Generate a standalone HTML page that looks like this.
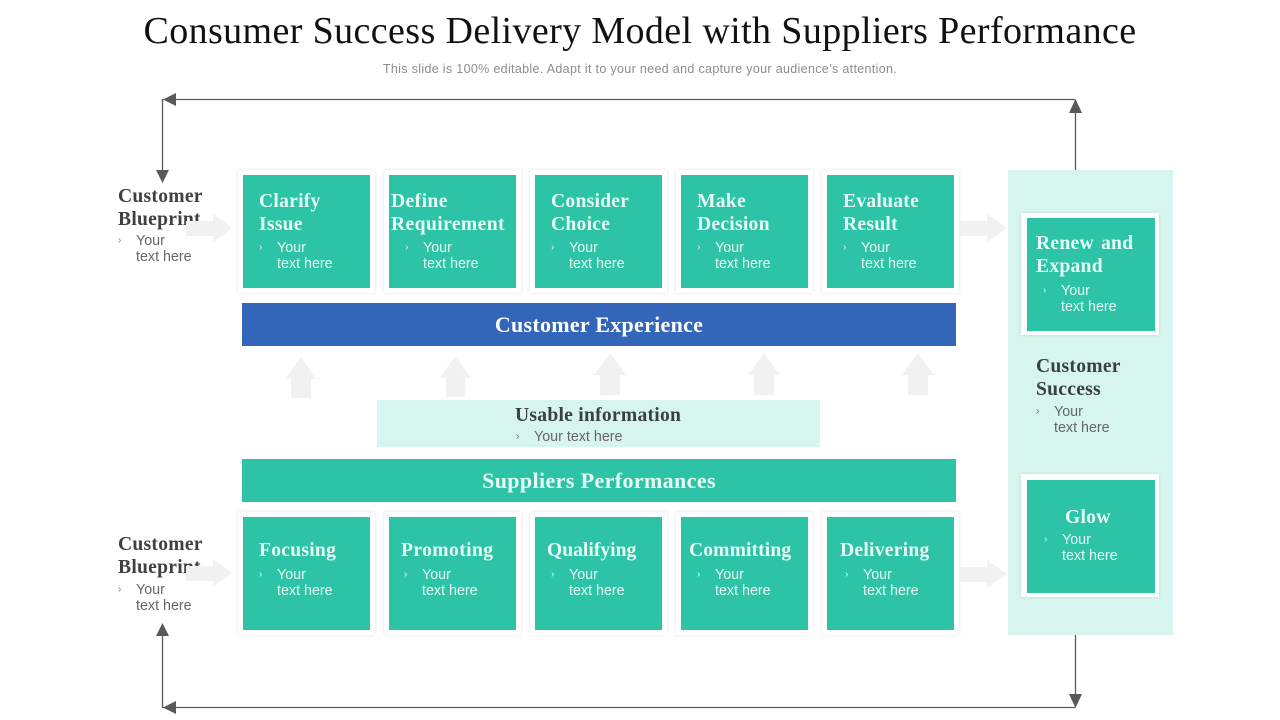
<!DOCTYPE html>
<html><head><meta charset="utf-8"><style>
html,body{margin:0;padding:0;background:#fff}
#p{position:relative;width:1280px;height:720px;overflow:hidden;background:#fff}
#p div{position:absolute;white-space:nowrap}
.f{background:#fff;width:137px;height:123px;box-shadow:0 0 3px rgba(0,0,0,.12)}
.g{background:#2dc3a6;width:127px;height:113px}
.h{font:bold 19.6px/23px "Liberation Serif",serif;color:#e6fbf5;letter-spacing:.25px}
.d{font:bold 19.6px/23px "Liberation Serif",serif;color:#404040;letter-spacing:.25px}
.t{font:14.3px/16px "Liberation Sans",sans-serif;color:#e6fbf5}
.k{font:14.3px/16px "Liberation Sans",sans-serif;color:#666}
.b{font:10px/16px "Liberation Sans",sans-serif}
.w{color:#e6fbf5}
</style></head><body><div id="p">
<div style="left:0;width:1280px;top:8px;text-align:center;font:38px/46px 'Liberation Serif',serif;color:#111;letter-spacing:.38px">Consumer Success Delivery Model with Suppliers Performance</div>
<div style="left:0;width:1280px;top:61px;text-align:center;font:12.5px/16px 'Liberation Sans',sans-serif;color:#8c8c8c;letter-spacing:.33px">This slide is 100% editable. Adapt it to your need and capture your audience’s attention.</div>

<div style="left:1008px;top:170px;width:165px;height:465px;background:#d7f5ef"></div>

<div class="f" style="left:238px;top:170px"></div><div class="f" style="left:384px;top:170px"></div><div class="f" style="left:530px;top:170px"></div><div class="f" style="left:676px;top:170px"></div><div class="f" style="left:822px;top:170px"></div>
<div class="f" style="left:238px;top:512px"></div><div class="f" style="left:384px;top:512px"></div><div class="f" style="left:530px;top:512px"></div><div class="f" style="left:676px;top:512px"></div><div class="f" style="left:822px;top:512px"></div>
<div class="f" style="left:1021px;top:213px;width:138px;height:122px"></div><div class="f" style="left:1021px;top:474px;width:138px;height:123px"></div>

<div class="g" style="left:243px;top:175px"></div><div class="g" style="left:389px;top:175px"></div><div class="g" style="left:535px;top:175px"></div><div class="g" style="left:681px;top:175px"></div><div class="g" style="left:827px;top:175px"></div>
<div class="g" style="left:243px;top:517px"></div><div class="g" style="left:389px;top:517px"></div><div class="g" style="left:535px;top:517px"></div><div class="g" style="left:681px;top:517px"></div><div class="g" style="left:827px;top:517px"></div>
<div class="g" style="left:1027px;top:218px;width:128px"></div><div class="g" style="left:1027px;top:480px;width:128px"></div>

<div style="left:242px;top:303px;width:714px;height:43px;background:#3366b8;color:#fff;text-align:center;font:bold 22px/44px 'Liberation Serif',serif;letter-spacing:.28px">Customer Experience</div>
<div style="left:377px;top:400px;width:443px;height:47px;background:#d7f5ef"></div>
<div style="left:242px;top:459px;width:714px;height:43px;background:#2dc3a6;color:#e6fbf5;text-align:center;font:bold 22px/44px 'Liberation Serif',serif;letter-spacing:.38px">Suppliers Performances</div>

<div class="d" style="left:118px;top:185px">Customer<br>Blueprint</div>
<div class="b" style="left:118px;top:233px;color:#777">›</div><div class="k" style="left:136px;top:233px">Your<br>text here</div>
<div class="d" style="left:118px;top:533px">Customer<br>Blueprint</div>
<div class="b" style="left:118px;top:582px;color:#777">›</div><div class="k" style="left:136px;top:582px">Your<br>text here</div>

<div class="h" style="left:259px;top:190px">Clarify<br>Issue</div><div class="b w" style="left:259px;top:240px">›</div><div class="t" style="left:277px;top:240px">Your<br>text here</div>
<div class="h" style="left:391px;top:190px;letter-spacing:.4px">Define<br>Requirement</div><div class="b w" style="left:405px;top:240px">›</div><div class="t" style="left:423px;top:240px">Your<br>text here</div>
<div class="h" style="left:551px;top:190px">Consider<br>Choice</div><div class="b w" style="left:551px;top:240px">›</div><div class="t" style="left:569px;top:240px">Your<br>text here</div>
<div class="h" style="left:697px;top:190px">Make<br>Decision</div><div class="b w" style="left:697px;top:240px">›</div><div class="t" style="left:715px;top:240px">Your<br>text here</div>
<div class="h" style="left:843px;top:190px">Evaluate<br>Result</div><div class="b w" style="left:843px;top:240px">›</div><div class="t" style="left:861px;top:240px">Your<br>text here</div>

<div class="h" style="left:259px;top:539px">Focusing</div><div class="b w" style="left:259px;top:567px">›</div><div class="t" style="left:277px;top:567px">Your<br>text here</div>
<div class="h" style="left:401px;top:539px;letter-spacing:.4px">Promoting</div><div class="b w" style="left:404px;top:567px">›</div><div class="t" style="left:422px;top:567px">Your<br>text here</div>
<div class="h" style="left:547px;top:539px;letter-spacing:0">Qualifying</div><div class="b w" style="left:551px;top:567px">›</div><div class="t" style="left:569px;top:567px">Your<br>text here</div>
<div class="h" style="left:689px;top:539px;letter-spacing:.1px">Committing</div><div class="b w" style="left:697px;top:567px">›</div><div class="t" style="left:715px;top:567px">Your<br>text here</div>
<div class="h" style="left:840px;top:539px">Delivering</div><div class="b w" style="left:845px;top:567px">›</div><div class="t" style="left:863px;top:567px">Your<br>text here</div>

<div class="h" style="left:1036px;top:232px;word-spacing:2px">Renew and<br>Expand</div><div class="b w" style="left:1043px;top:283px">›</div><div class="t" style="left:1061px;top:283px">Your<br>text here</div>
<div class="h" style="left:1065px;top:506px">Glow</div><div class="b w" style="left:1044px;top:532px">›</div><div class="t" style="left:1062px;top:532px">Your<br>text here</div>

<div class="d" style="left:1036px;top:355px;color:#3a3f3f">Customer<br>Success</div>
<div class="b" style="left:1036px;top:404px;color:#666">›</div><div class="k" style="left:1054px;top:404px">Your<br>text here</div>

<div class="d" style="left:515px;top:404px;color:#3a3f3f">Usable information</div>
<div class="b" style="left:516px;top:429px;color:#666">›</div><div class="k" style="left:534px;top:429px">Your text here</div>

<svg width="1280" height="720" style="position:absolute;left:0;top:0">
<g fill="#f1f1f1">
<polygon points="186,221 213,221 213,214 232,228 213,242 213,236 186,236"/>
<polygon points="186,566 213,566 213,559 232,573 213,587 213,581 186,581"/>
<polygon points="960,221 987,221 987,214 1007,228 987,242 987,236 960,236"/>
<polygon points="960,567 987,567 987,560 1007,574 987,588 987,582 960,582"/>
<polygon points="301,357 316,379 311,379 311,398 291,398 291,379 285,379"/>
<polygon points="455,356 471,378 465,378 465,397 446,397 446,378 440,378"/>
<polygon points="610,353 626,375 620,375 620,395 600,395 600,375 594,375"/>
<polygon points="764,353 780,375 774,375 774,395 754,395 754,375 748,375"/>
<polygon points="918,353 934,375 928,375 928,395 908,395 908,375 902,375"/>
</g>
<g fill="none" stroke="#595959" stroke-width="1.3">
<path d="M163 99.5H1075.5M162.5 99V172M1075.5 100V170M163 707.5H1075.5M162.5 634V708M1075.5 635V700"/>
</g>
<g fill="#595959">
<polygon points="163,99.5 176,93 176,106"/>
<polygon points="156,170 169,170 162.5,183"/>
<polygon points="1075.5,99 1082,113 1069,113"/>
<polygon points="162.5,623 169,636 156,636"/>
<polygon points="163,707.5 176,701 176,714"/>
<polygon points="1069,694 1082,694 1075.5,708"/>
</g>
</svg>
</div></body></html>
